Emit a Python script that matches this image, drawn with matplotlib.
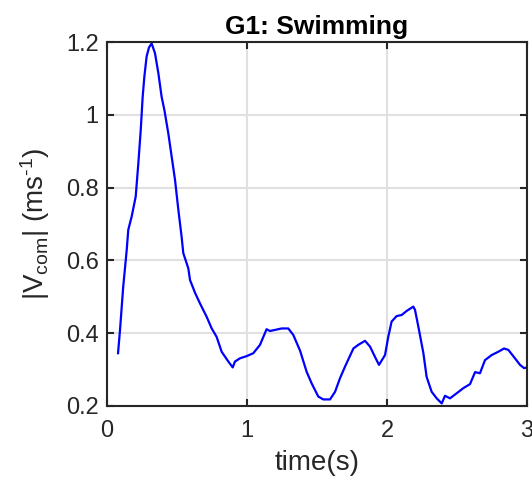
import matplotlib
matplotlib.use("Agg")
import matplotlib.pyplot as plt

t = [0.079, 0.093, 0.116, 0.141, 0.152, 0.176, 0.205, 0.224, 0.241, 0.255, 0.267, 0.283,
     0.300, 0.319, 0.343, 0.367, 0.390, 0.410, 0.438, 0.462, 0.486, 0.510, 0.533, 0.545,
     0.581, 0.593, 0.630, 0.664, 0.712, 0.748, 0.783, 0.819, 0.867, 0.898, 0.914, 0.950,
     0.998, 1.045, 1.093, 1.140, 1.164, 1.200, 1.248, 1.295, 1.331, 1.379, 1.426, 1.462,
     1.509, 1.545, 1.593, 1.629, 1.664, 1.700, 1.760, 1.795, 1.843, 1.879, 1.914, 1.943,
     1.986, 2.009, 2.033, 2.069, 2.105, 2.140, 2.188, 2.200, 2.224, 2.260, 2.283, 2.319,
     2.355, 2.391, 2.414, 2.450, 2.498, 2.545, 2.593, 2.629, 2.664, 2.700, 2.748, 2.795,
     2.836, 2.867, 2.914, 2.950, 2.979, 3.000]
v = [0.345, 0.409, 0.528, 0.629, 0.684, 0.720, 0.775, 0.867, 0.958, 1.050, 1.105, 1.160,
     1.185, 1.196, 1.169, 1.114, 1.050, 1.013, 0.949, 0.885, 0.821, 0.738, 0.665, 0.620,
     0.578, 0.546, 0.510, 0.482, 0.445, 0.413, 0.390, 0.349, 0.322, 0.306, 0.322, 0.331,
     0.337, 0.345, 0.368, 0.411, 0.406, 0.409, 0.413, 0.413, 0.395, 0.352, 0.294, 0.262,
     0.226, 0.218, 0.218, 0.239, 0.276, 0.308, 0.358, 0.368, 0.379, 0.363, 0.335, 0.313,
     0.340, 0.390, 0.432, 0.447, 0.450, 0.461, 0.473, 0.464, 0.418, 0.345, 0.280, 0.239,
     0.221, 0.207, 0.228, 0.221, 0.235, 0.249, 0.260, 0.293, 0.290, 0.326, 0.340, 0.349,
     0.358, 0.354, 0.331, 0.313, 0.304, 0.306]

xticks = [0, 1, 2, 3]
yticks = [0.2, 0.4, 0.6, 0.8, 1.0, 1.2]
yticklabels = ["0.2", "0.4", "0.6", "0.8", "1", "1.2"]

plt.rcParams['font.family'] = ['Liberation Sans', 'DejaVu Sans']
plt.rcParams['mathtext.fontset'] = 'custom'
plt.rcParams['mathtext.rm'] = 'Liberation Sans'
plt.rcParams['mathtext.it'] = 'Liberation Sans'

fig = plt.figure(figsize=(5.32, 4.8), dpi=100)
ax = fig.add_axes([0.2011, 0.1542, 0.7895, 0.7583])
ax.plot(t, v, color='#0000ff', lw=1.6)
ax.set_xlim(0, 3)
ax.set_ylim(0.2, 1.2)
ax.set_xticks(xticks)
ax.set_yticks(yticks)
ax.set_yticklabels(yticklabels)
ax.grid(True, color='#e0e0e0', lw=1.5)
ax.set_axisbelow(True)
for s in ax.spines.values():
    s.set_color('#262626')
    s.set_linewidth(1.5)
ax.tick_params(direction='in', length=5, width=1.5, color='#262626', labelsize=17,
               labelcolor='#262626', top=True, right=True)
ax.tick_params(axis='x', pad=10)
ax.tick_params(axis='y', pad=6)
ax.set_xlabel('time(s)', fontsize=20, color='#262626', labelpad=6)
ax.set_ylabel(r'|V$_{\rm com}$| (ms$^{\text{-1}}$)', fontsize=20, color='#262626', labelpad=10)
ax.set_title('G1: Swimming', fontsize=19, fontweight='bold', color='#000000', pad=6)
fig.savefig('out.png', dpi=100)
